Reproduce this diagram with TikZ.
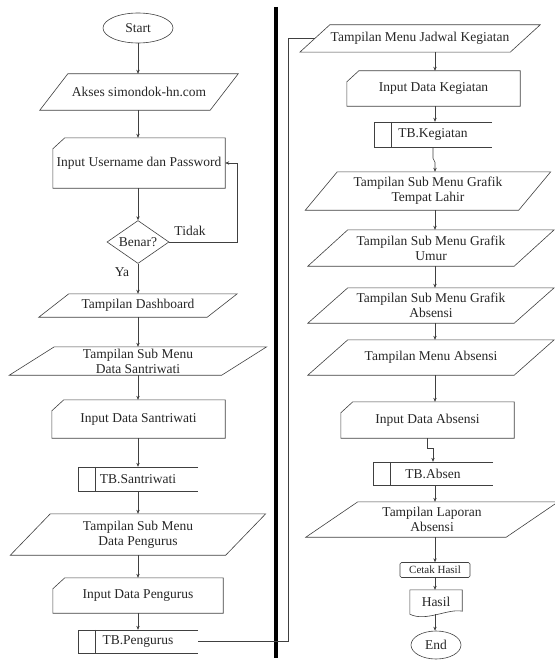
\documentclass[tikz,border=0pt]{standalone}
\usepackage{fontspec}
\setmainfont{Liberation Serif}
\usetikzlibrary{shapes.geometric,arrows.meta}
\begin{document}
\begin{tikzpicture}[x=1pt,y=-1pt,
  ln/.style={draw=black!75,line width=0.6pt},
  arr/.style={ln,-{Stealth[length=4pt,width=3.4pt]}},
  txt/.style={font=\fontsize{13.5}{15}\selectfont,text=black!85,align=center,inner sep=0pt},
  box/.style 2 args={txt,draw=none,rectangle,minimum width=#1,minimum height=#2},
]
\useasboundingbox (0,0) rectangle (554,661);
\coordinate (axL) at (138,0);
\coordinate (axR) at (435,0);
\coordinate (fb) at (237,0);
\coordinate (rt) at (288,0);
\coordinate (sepT) at (276,7);
\coordinate (sepB) at (276,658);

% ---------- left column ----------
\node[txt,ln,ellipse,minimum width=70,minimum height=30] (start) at (138,28) {Start};
\node[box={170}{36}] (akses) at (139,92) {Akses simondok-hn.com};
\node[box={172}{50}] (user) at (139,163) {Input Username dan Password};
\node[txt,ln,diamond,aspect=1.44,minimum width=62,minimum height=43] (benar) at (138,242) {Benar?};
\node[box={168}{23}] (dash) at (138,305.5) {Tampilan Dashboard};
\node[box={212}{28}] (sdsan) at (138,361) {Tampilan Sub Menu\\Data Santriwati};
\node[box={173}{38}] (insan) at (138.5,419) {Input Data Santriwati};
\node[box={120}{24}] (tbsan) at (138,479) {TB.Santriwati};
\node[box={215}{41}] (sdpeng) at (138,534.5) {Tampilan Sub Menu\\Data Pengurus};
\node[box={170}{35}] (inpeng) at (138,595.5) {Input Data Pengurus};
\node[box={120}{23}] (tbpeng) at (138,641.5) {TB.Pengurus};
\node[txt] (tidak) at (190,231) {Tidak};
\node[txt] (ya) at (122,272) {Ya};

% ---------- right column ----------
\node[box={210}{27}] (jadwal) at (420,38.5) {Tampilan Menu Jadwal Kegiatan};
\node[box={173}{35}] (kegin) at (433.5,88.5) {Input Data Kegiatan};
\node[box={118}{25}] (tbkeg) at (433,134.5) {TB.Kegiatan};
\node[box={213}{38}] (lahir) at (428,191) {Tampilan Sub Menu Grafik\\Tempat Lahir};
\node[box={206}{36}] (umur) at (431,248) {Tampilan Sub Menu Grafik\\Umur};
\node[box={206}{35}] (gabs) at (431,305.5) {Tampilan Sub Menu Grafik\\Absensi};
\node[box={206}{35}] (mabs) at (431,357.5) {Tampilan Menu Absensi};
\node[box={173}{36}] (inabs) at (427.5,420) {Input Data Absensi};
\node[box={120}{23}] (tbabs) at (433,473.5) {TB.Absen};
\node[box={200}{35}] (lap) at (432,519.5) {Tampilan Laporan\\Absensi};
\node[txt,ln,rectangle,rounded corners=1.5pt,minimum width=70,minimum height=15,font=\fontsize{11}{12}\selectfont] (cetak) at (435,570) {Cetak Hasil};
\node[box={52}{24}] (hasil) at (436,602) {Hasil};
\node[txt,ln,ellipse,minimum width=50,minimum height=28] (stop) at (436,645) {End};

% ---------- shapes ----------
\foreach \n/\s in {akses/28,dash/30,sdsan/45,sdpeng/40,jadwal/30,lahir/32,umur/40,gabs/40,mabs/40,lap/52}
  \draw[ln] ([xshift=\s/2]\n.north west) -- ([xshift=\s/2]\n.north east) -- ([xshift=-\s/2]\n.south east) -- ([xshift=-\s/2]\n.south west) -- cycle;
\foreach \n in {user,insan,inpeng,kegin,inabs}
  \draw[ln] ([xshift=12]\n.north west) -- (\n.north east) -- (\n.south east) -- (\n.south west) -- ([yshift=-11]\n.north west) -- cycle;
\foreach \n in {tbsan,tbpeng,tbkeg,tbabs}{
  \draw[ln] (\n.north east) -- (\n.north west) -- (\n.south west) -- (\n.south east);
  \draw[ln] ([xshift=17]\n.north west) -- ([xshift=17]\n.south west);
}
\draw[ln] (hasil.south west) -- (hasil.north west) -- (hasil.north east) -- ([yshift=3]hasil.south east)
  .. controls ([xshift=-14,yshift=6]hasil.south east) and ([xshift=16,yshift=-8]hasil.south west) .. (hasil.south west);

% ---------- separator ----------
\draw[line width=3.2pt,black] (sepT) -- (sepB);

% ---------- connectors ----------
\foreach \a/\b in {start/akses,akses/user,user/benar,benar/dash,dash/sdsan,sdsan/insan,insan/tbsan,tbsan/sdpeng,sdpeng/inpeng,inpeng/tbpeng}
  \draw[arr] (\a.south -| axL) -- (\b.north -| axL);
\draw[arr] (benar.east) -| (fb |- user.east) -- (user.east);
\draw[ln] (tbpeng.east) -| (rt |- jadwal.west) -- (jadwal.west);

\foreach \a/\b in {jadwal/kegin,kegin/tbkeg,lahir/umur,umur/gabs,gabs/mabs,mabs/inabs,tbabs/lap,lap/cetak,cetak/hasil,hasil/stop}
  \draw[arr] (\a.south -| axR) -- (\b.north -| axR);
\draw[arr] (tbkeg.south) -- ++(0,11) -- ++(2,4) -- (lahir.north -| axR);
\draw[arr] (inabs.south) -- ++(0,10) -| (tbabs.north);
\end{tikzpicture}
\end{document}
